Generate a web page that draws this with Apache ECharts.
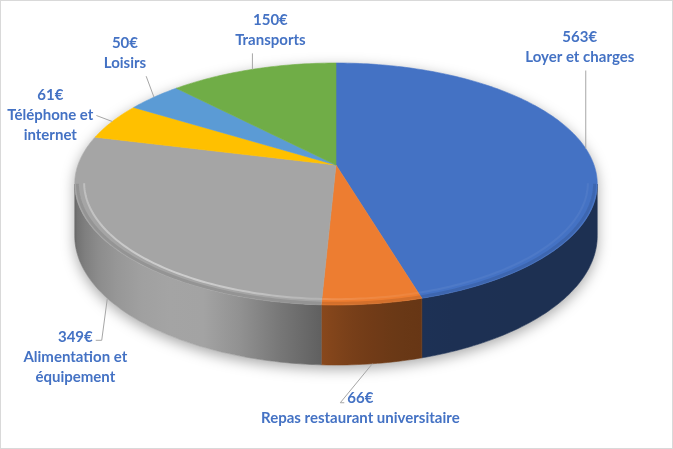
<!DOCTYPE html>
<html>
<head>
<meta charset="utf-8">
<script src="https://cdn.jsdelivr.net/npm/echarts@6.0.0/dist/echarts.min.js"></script>
<style>
html, body { margin: 0; padding: 0; background: #fff; }
#wrap { position: relative; width: 673px; height: 449px; }
#chart-container { width: 673px; height: 449px; }
#frame { position: absolute; left: 0; top: 0; width: 673px; height: 449px; box-sizing: border-box; border: 1px solid #d9d9d9; pointer-events: none; }
</style>
</head>
<body>
<div id="wrap">
  <div id="chart-container"></div>
  <div id="frame"></div>
</div>
<script>
// 数据
var categories = ['Loyer et charges', 'Repas restaurant universitaire', 'Alimentation et équipement', 'Téléphone et internet', 'Loisirs', 'Transports'];
var values = [563, 66, 349, 61, 50, 150];
var colors = ['#4472C4', '#ED7D31', '#A5A5A5', '#FFC000', '#5B9BD5', '#70AD47'];

// 标签布局（相对于扇区锚点的偏移）
var labelOffsets = [[-6, -101], [-12, 44], [-32, 59], [-62, -6], [-29, -44], [18, -39]];
var labelWrap = [0, 0, 115, 100, 0, 0];
var leaderSide = ['bottom', 'firstLeft', 'firstRight', 'right', 'bottom', 'bottom'];

// 3D 饼图的投影参数
var CX = 336, CY = 165, SX = 258, SY = 118, PERSP = 0.157, DEPTH = 50.6;
var EDGE = Math.acos(-PERSP) * 180 / Math.PI;
var FONT = 'bold 15px Lato';
var LINE_H = 20;

var total = values.reduce(function (s, v) { return s + v; }, 0);
var starts = [];
values.reduce(function (acc, v, i) { starts[i] = acc; return acc + v / total * 360; }, 0);

var measureCtx = document.createElement('canvas').getContext('2d');
measureCtx.font = FONT;
function textWidth(t) { return measureCtx.measureText(t).width; }

function proj(a, r, drop) {
    var rad = a * Math.PI / 180;
    var zz = 1 + PERSP * r * Math.cos(rad);
    return [CX + SX * r * Math.sin(rad) / zz, CY + (-SY * r * Math.cos(rad) + (drop || 0)) / zz];
}

function arcPts(a1, a2, r, drop) {
    var n = Math.max(2, Math.ceil(Math.abs(a2 - a1)));
    var pts = [];
    for (var k = 0; k <= n; k++) {
        pts.push(proj(a1 + (a2 - a1) * k / n, r, drop));
    }
    return pts;
}

// 侧面光照
function light(a) {
    var d = (a - 210) / (a > 210 ? 50 : 24);
    return 0.42 + 0.58 * Math.exp(-d * d);
}

function shade(hex, f) {
    var n = parseInt(hex.slice(1), 16);
    var r = Math.round(((n >> 16) & 255) * f), g = Math.round(((n >> 8) & 255) * f), b = Math.round((n & 255) * f);
    return 'rgb(' + r + ',' + g + ',' + b + ')';
}

// 沿正面弧线的水平渐变
function frontGradient(a1, a2, colorAt) {
    var xs = arcPts(a1, a2, 1, 0).map(function (p) { return p[0]; });
    var xmin = Math.min.apply(null, xs), xmax = Math.max.apply(null, xs);
    var stops = [];
    for (var k = 0; k <= 10; k++) {
        var a = a1 + (a2 - a1) * k / 10;
        var off = xmax > xmin ? (proj(a, 1, 0)[0] - xmin) / (xmax - xmin) : 0;
        stops.push({ offset: Math.min(1, Math.max(0, off)), color: colorAt(a) });
    }
    stops.sort(function (p, q) { return p.offset - q.offset; });
    return new echarts.graphic.LinearGradient(xmin, 0, xmax, 0, stops, true);
}

function sliceRange(i, api) {
    return [starts[i], starts[i] + api.value(0) / total * 360];
}

function renderWall(params, api) {
    var i = params.dataIndex;
    var rg = sliceRange(i, api);
    var children = [];
    if (i === 0) {
        // 底部阴影
        var base = arcPts(360 - EDGE, 360 + EDGE, 1, 0).concat(arcPts(EDGE, 360 - EDGE, 1, DEPTH));
        children.push({
            type: 'polygon',
            shape: { points: base },
            style: { fill: '#fff', shadowBlur: 14, shadowColor: 'rgba(0,0,0,0.35)', shadowOffsetY: 4 }
        });
    }
    var a1 = Math.max(rg[0], EDGE), a2 = Math.min(rg[1], 360 - EDGE);
    if (a2 > a1) {
        var top = arcPts(a1, a2, 1, 0);
        var bot = arcPts(a2, a1, 1, DEPTH);
        var grad = frontGradient(a1, a2, function (a) { return shade(colors[i], light(a)); });
        children.push({
            type: 'polygon',
            shape: { points: top.concat(bot) },
            style: { fill: grad, stroke: grad, lineWidth: 0.6 }
        });
    }
    return { type: 'group', children: children };
}

function renderTop(params, api) {
    var i = params.dataIndex;
    var rg = sliceRange(i, api);
    var pts = [[CX, CY]].concat(arcPts(rg[0], rg[1], 1, 0));
    var children = [{
        type: 'polygon',
        shape: { points: pts },
        style: { fill: colors[i], stroke: colors[i], lineWidth: 0.6 }
    }];
    var a1 = Math.max(rg[0], EDGE), a2 = Math.min(rg[1], 360 - EDGE);
    if (a2 > a1) {
        children.push({
            type: 'polyline',
            shape: { points: arcPts(a1, a2, 0.99, 0) },
            style: { fill: null, stroke: 'rgba(0,0,0,0.10)', lineWidth: 3 }
        });
        var hl = frontGradient(a1, a2, function (a) {
            return 'rgba(255,255,255,' + (0.05 + 0.4 * (light(a) - 0.42) / 0.58).toFixed(3) + ')';
        });
        children.push({
            type: 'polyline',
            shape: { points: arcPts(a1, a2, 0.965, 0) },
            style: { fill: null, stroke: hl, lineWidth: 2 }
        });
    }
    return { type: 'group', children: children };
}

function wrapText(t, w) {
    if (!w) return [t];
    var words = t.split(' '), lines = [], cur = '';
    words.forEach(function (word) {
        var test = cur ? cur + ' ' + word : word;
        if (cur && textWidth(test) > w) { lines.push(cur); cur = word; } else { cur = test; }
    });
    lines.push(cur);
    return lines;
}

function renderLabel(params, api) {
    var i = params.dataIndex;
    var rg = sliceRange(i, api);
    var mid = (rg[0] + rg[1]) / 2;
    var front = Math.cos(mid * Math.PI / 180) < -PERSP;
    var anchor = proj(mid, 1, front ? DEPTH : 0);
    var lx = anchor[0] + labelOffsets[i][0], ly = anchor[1] + labelOffsets[i][1];
    var lines = [api.value(0) + '€'].concat(wrapText(categories[i], labelWrap[i]));
    var top = ly - lines.length * LINE_H / 2;
    var widths = lines.map(textWidth);
    var wMax = Math.max.apply(null, widths);
    var children = lines.map(function (t, k) {
        return {
            type: 'text',
            style: { text: t, x: lx, y: top + k * LINE_H + LINE_H / 2, align: 'center', verticalAlign: 'middle', font: FONT, fill: '#4472C4' }
        };
    });
    var end, pts;
    var side = leaderSide[i];
    if (side === 'bottom') {
        end = [Math.min(lx + wMax / 2, Math.max(lx - wMax / 2, anchor[0])), top + lines.length * LINE_H + 3];
        pts = [anchor, end];
    } else if (side === 'right') {
        end = [lx + wMax / 2 + 3, ly];
        pts = [anchor, end];
    } else if (side === 'firstRight') {
        end = [lx + widths[0] / 2 + 3, top + LINE_H / 2 + 3];
        pts = [anchor, [end[0] + 6, end[1]], end];
    } else {
        end = [lx - widths[0] / 2 - 3, top + LINE_H / 2 + 5];
        pts = [anchor, [end[0] - 4, end[1]], end];
    }
    children.unshift({
        type: 'polyline',
        shape: { points: pts },
        style: { fill: null, stroke: '#A6A6A6', lineWidth: 1 }
    });
    return { type: 'group', children: children };
}

var myChart = echarts.init(document.getElementById('chart-container'));
myChart.setOption({
    animation: false,
    backgroundColor: '#fff',
    series: [
        { type: 'custom', coordinateSystem: 'none', z: 1, data: values, renderItem: renderWall, silent: true },
        { type: 'custom', coordinateSystem: 'none', z: 2, data: values, renderItem: renderTop, silent: true },
        { type: 'custom', coordinateSystem: 'none', z: 3, data: values, renderItem: renderLabel, silent: true }
    ]
});
</script>
</body>
</html>
